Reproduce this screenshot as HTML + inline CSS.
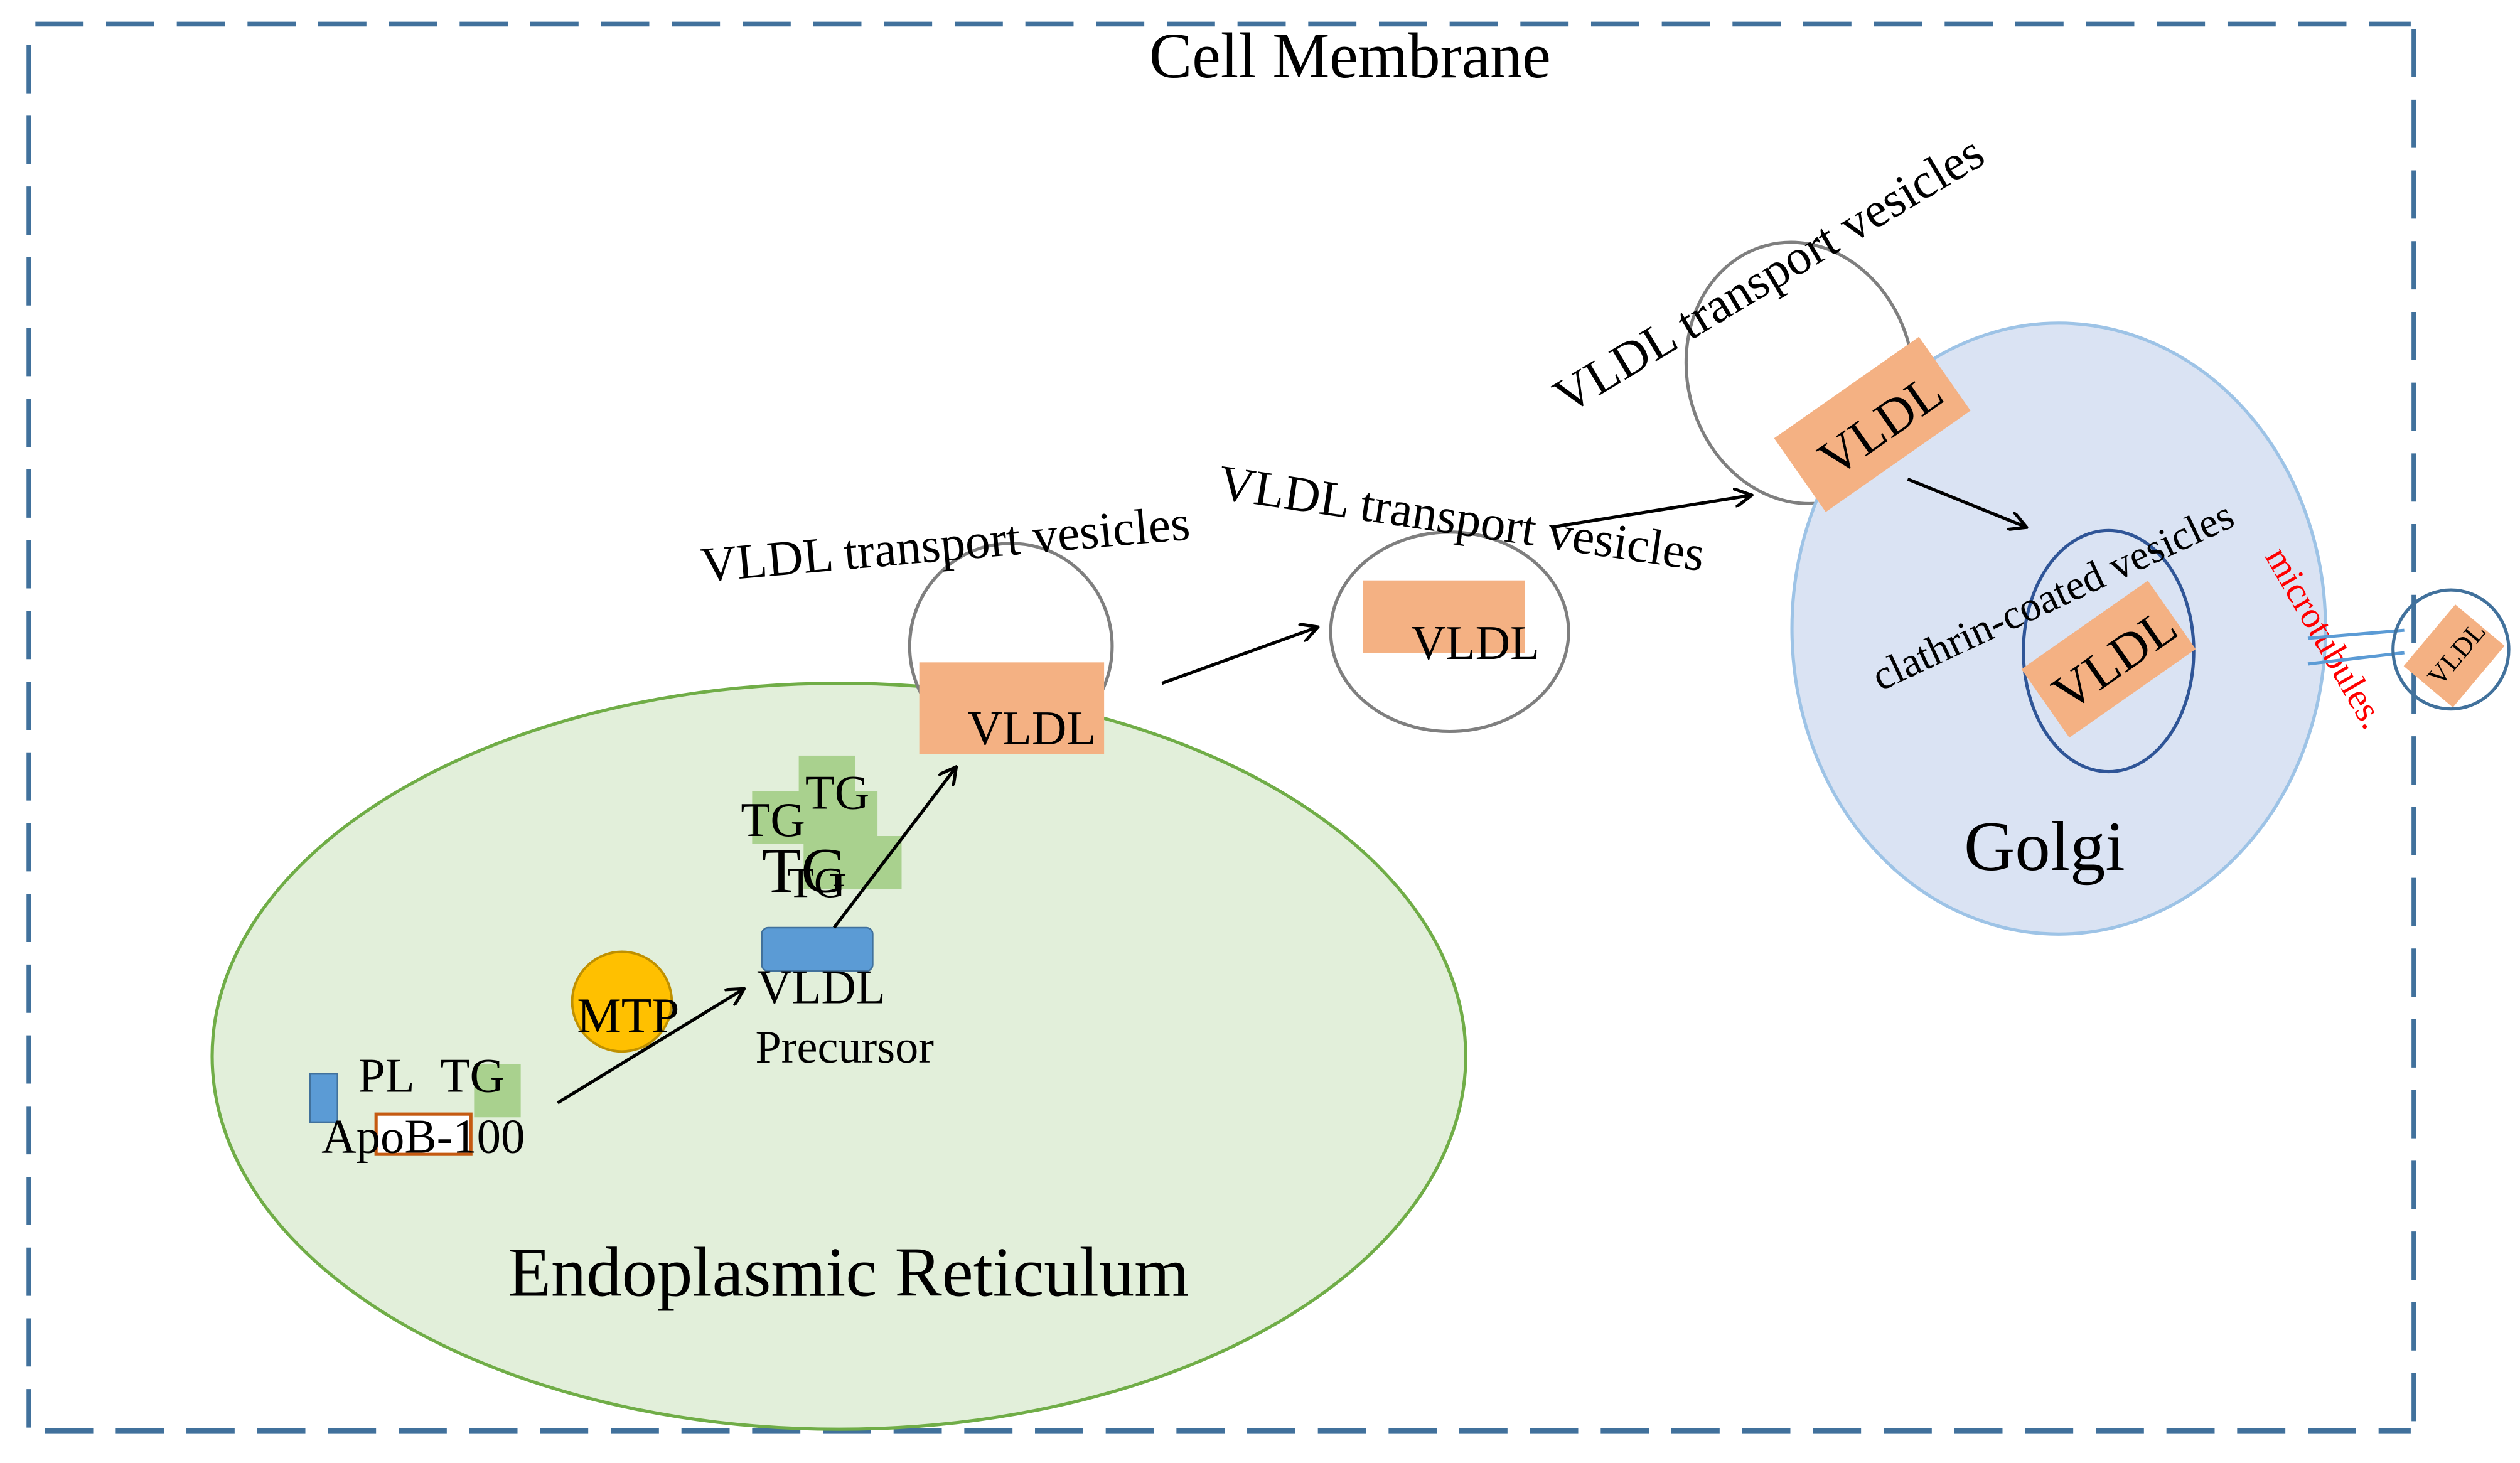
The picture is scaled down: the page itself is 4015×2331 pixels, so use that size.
<!DOCTYPE html>
<html><head><meta charset="utf-8"><style>
html,body{margin:0;padding:0;background:#fff;}
svg{display:block;}
text{font-family:"Liberation Serif",serif;fill:#000;}
</style></head><body>
<svg width="4015" height="2331" viewBox="0 0 1568 910" preserveAspectRatio="none" xmlns="http://www.w3.org/2000/svg">
<defs>
<marker id="ah" markerWidth="12" markerHeight="12" refX="11" refY="6" orient="auto" markerUnits="userSpaceOnUse">
<path d="M0,0 L11,6 L0,12" fill="none" stroke="#000" stroke-width="2"/>
</marker>
</defs>
<g stroke="#41719c" stroke-width="3" fill="none" stroke-dasharray="30,14">
<line x1="22" y1="15" x2="1500" y2="15"/>
<line x1="18" y1="28" x2="18" y2="888"/>
<line x1="28" y1="890" x2="1500" y2="890"/>
<line x1="1502" y1="18" x2="1502" y2="885"/>
</g>
<text x="840" y="48" font-size="40" text-anchor="middle">Cell Membrane</text>

<ellipse cx="522" cy="657" rx="390" ry="232" fill="#e2efda" stroke="#70ad47" stroke-width="2"/>
<text x="528" y="806" font-size="44" text-anchor="middle">Endoplasmic Reticulum</text>

<ellipse cx="629" cy="402" rx="63" ry="64" fill="none" stroke="#7f7f7f" stroke-width="2"/>
<rect x="572" y="412" width="115" height="57" fill="#f4b183"/>
<text x="602" y="463" font-size="30">VLDL</text>
<text x="437" y="362" font-size="31" transform="rotate(-5 437 362)">VLDL transport vesicles</text>

<g fill="#a9d18e">
<rect x="497" y="470" width="35" height="25"/>
<rect x="468" y="492" width="78" height="33"/>
<rect x="500" y="520" width="61" height="33"/>
</g>
<text x="461" y="520" font-size="30">TG</text>
<text x="501" y="503" font-size="30">TG</text>
<text x="474" y="555" font-size="40">TG</text>
<text x="490" y="558" font-size="27">TG</text>
<rect x="474" y="577" width="69" height="27" rx="4" fill="#5b9bd5" stroke="#41719c" stroke-width="1"/>
<text x="471" y="624" font-size="30">VLDL</text>
<text x="470" y="661" font-size="29">Precursor</text>
<line x1="519" y1="577" x2="595" y2="477" stroke="#000" stroke-width="2" marker-end="url(#ah)"/>

<circle cx="387" cy="623" r="31" fill="#ffc000" stroke="#bf9000" stroke-width="1.5"/>
<text x="359" y="642" font-size="31">MTP</text>
<line x1="347" y1="686" x2="463" y2="615" stroke="#000" stroke-width="2" marker-end="url(#ah)"/>

<rect x="193" y="668" width="17" height="30" fill="#5b9bd5" stroke="#41719c" stroke-width="1"/>
<rect x="295" y="662" width="29" height="33" fill="#a9d18e"/>
<text x="223" y="679" font-size="30">PL</text>
<text x="274" y="679" font-size="30">TG</text>
<rect x="234" y="693" width="59" height="25" fill="#fff" stroke="#c55a11" stroke-width="2"/>
<text x="200" y="717" font-size="30">ApoB-100</text>

<line x1="723" y1="425" x2="820" y2="390" stroke="#000" stroke-width="2" marker-end="url(#ah)"/>
<ellipse cx="902" cy="393" rx="74" ry="62" fill="none" stroke="#7f7f7f" stroke-width="2"/>
<rect x="848" y="361" width="101" height="45" fill="#f4b183"/>
<text x="878" y="410" font-size="30">VLDL</text>
<text x="757" y="310" font-size="31" transform="rotate(8.5 757 310)">VLDL transport vesicles</text>
<line x1="965" y1="328" x2="1090" y2="308" stroke="#000" stroke-width="2" marker-end="url(#ah)"/>

<ellipse cx="1120" cy="232" rx="70" ry="82" fill="none" stroke="#7f7f7f" stroke-width="2" transform="rotate(-15 1120 232)"/>
<ellipse cx="1281" cy="391" rx="166" ry="190" fill="#dae3f3" stroke="#9dc3e6" stroke-width="2"/>
<text x="1222" y="541" font-size="44">Golgi</text>

<g transform="translate(1165 264) rotate(-35)">
<rect x="-55" y="-28" width="110" height="56" fill="#f4b183"/>
<text x="4" y="14" font-size="32" text-anchor="middle">VLDL</text>
</g>
<text x="975" y="258" font-size="31" transform="rotate(-31 975 258)">VLDL transport vesicles</text>
<line x1="1187" y1="298" x2="1261" y2="328" stroke="#000" stroke-width="2" marker-end="url(#ah)"/>

<ellipse cx="1312" cy="405" rx="53" ry="75" fill="none" stroke="#2f5597" stroke-width="2"/>
<g transform="translate(1312 410) rotate(-35)">
<rect x="-48" y="-26" width="96" height="52" fill="#f4b183"/>
<text x="3" y="13" font-size="32" text-anchor="middle">VLDL</text>
</g>
<text x="1170" y="430" font-size="26" transform="rotate(-25 1170 430)">clathrin-coated vesicles</text>

<text x="1409" y="346" font-size="23" style="fill:#ff0000" transform="rotate(60 1409 346)">microtubules.</text>
<line x1="1436" y1="397" x2="1496" y2="392" stroke="#5b9bd5" stroke-width="2"/>
<line x1="1436" y1="413" x2="1496" y2="406" stroke="#5b9bd5" stroke-width="2"/>
<ellipse cx="1525" cy="404" rx="36" ry="37" fill="none" stroke="#41719c" stroke-width="2"/>
<g transform="translate(1527 408) rotate(-50)">
<rect x="-25" y="-20" width="50" height="40" fill="#f4b183"/>
<text x="2" y="6" font-size="17" text-anchor="middle">VLDL</text>
</g>
</svg>
</body></html>
